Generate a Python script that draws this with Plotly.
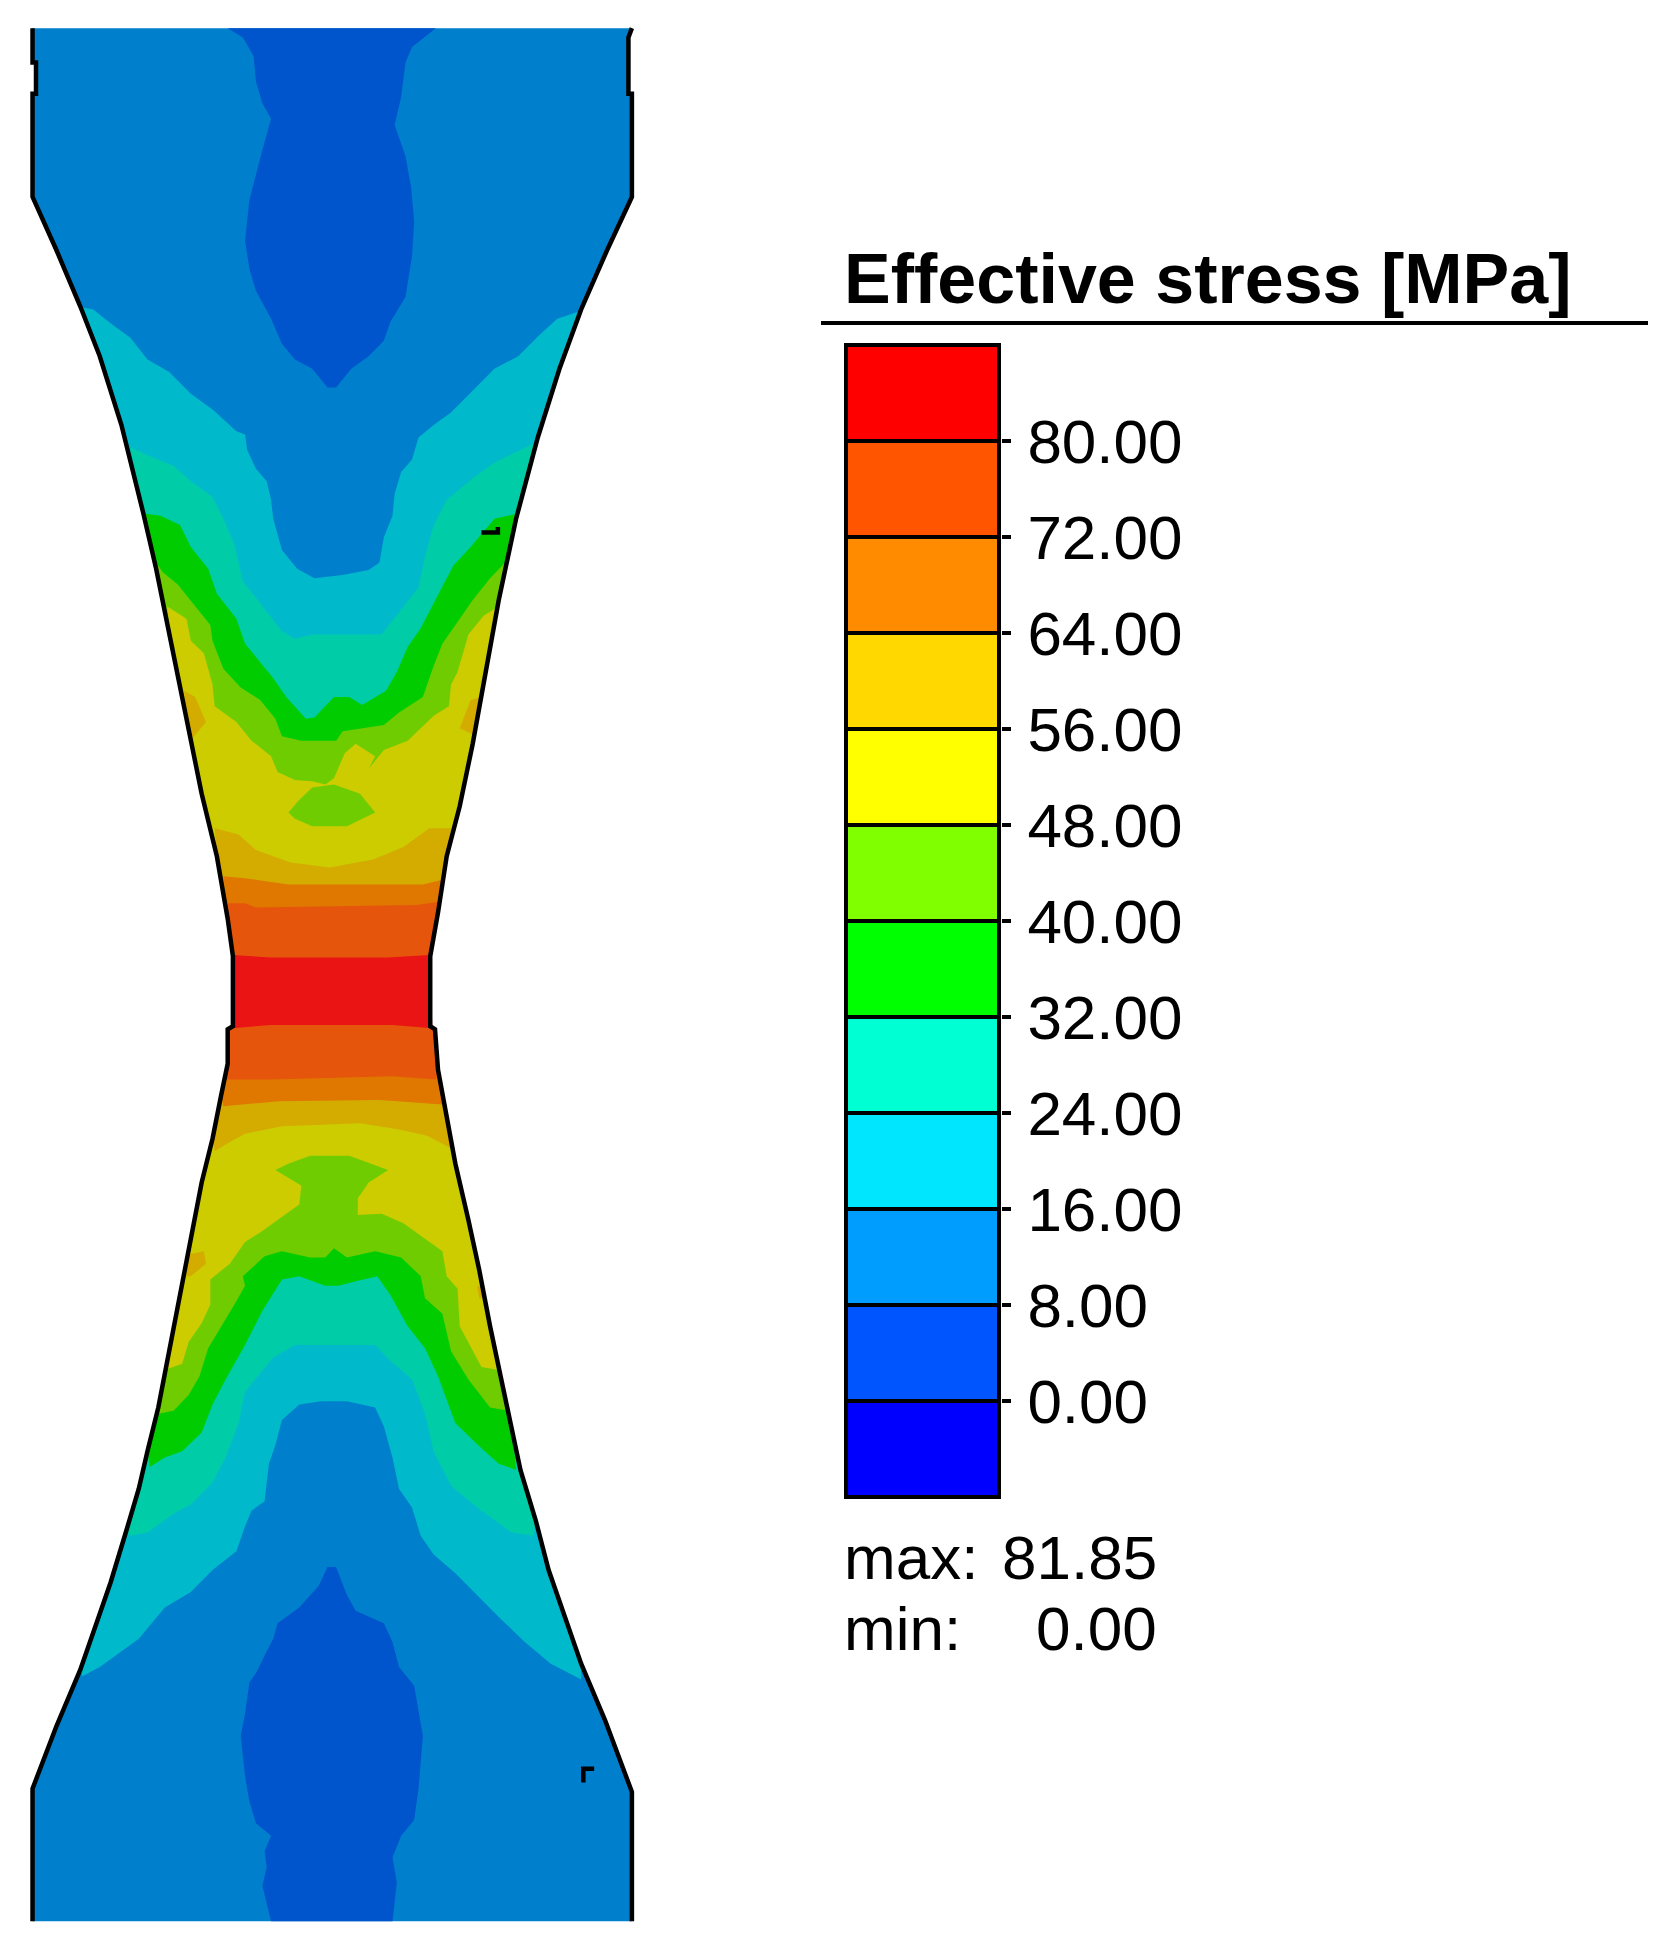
import plotly.graph_objects as go

W, H = 1669, 1951
# drawing units for the specimen: image px / 0.4337 in x, image px / 0.625 in y
U_MAX, V_MAX = W / 0.4337, H / 0.625
B = 1552  # offset of the lower half

# specimen outline, top to bottom
left_u = [75, 75, 83, 83, 75, 75, 130, 185, 230, 280, 330, 360, 395, 430, 465, 500, 525, 537,
          537, 525, 525, 510, 490, 465, 440, 410, 385, 365, 340, 320, 290, 255, 215, 185, 130, 80, 75, 75]
left_v = [45, 100, 100, 150, 150, 315, 400, 490, 570, 680, 820, 910, 1030, 1150, 1270, 1370, 1470, 1530,
          B + 90, B + 95, B + 150, B + 200, B + 270, B + 340, B + 430, B + 530, B + 620, B + 700, B + 770,
          B + 830, B + 900, B + 980, B + 1060, B + 1120, B + 1210, B + 1300, B + 1310, B + 1522]
right_u = [1457, 1449, 1449, 1457, 1457, 1400, 1340, 1290, 1240, 1190, 1150, 1120, 1090, 1060, 1030, 1010, 992,
           992, 1003, 1010, 1030, 1050, 1080, 1105, 1130, 1155, 1180, 1200, 1235, 1265, 1300, 1340, 1395, 1450, 1457, 1457]
right_v = [45, 60, 150, 150, 315, 400, 495, 590, 700, 830, 960, 1080, 1190, 1290, 1370, 1460, 1530,
           B + 90, B + 95, B + 160, B + 240, B + 310, B + 400, B + 480, B + 570, B + 650, B + 730, B + 800,
           B + 880, B + 960, B + 1030, B + 1110, B + 1200, B + 1300, B + 1315, B + 1522]
WAIST = 1590
waist_left, waist_right = 537, 992

# upper half, contour lines left to right
cyan_top_u = [190, 215, 260, 300, 340, 390, 440, 490, 545, 565, 570, 590, 615, 625, 630, 650, 685, 725, 790, 850, 875, 885, 905, 910, 925, 950, 965, 1000, 1040, 1090, 1140, 1195, 1245, 1285, 1340]
cyan_top_v = [492, 495, 520, 540, 575, 595, 630, 655, 690, 695, 720, 750, 770, 800, 830, 880, 910, 925, 920, 912, 900, 860, 825, 790, 755, 735, 700, 680, 660, 625, 590, 570, 535, 510, 497]
teal_top_u = [300, 345, 400, 440, 490, 515, 540, 560, 600, 650, 680, 720, 880, 925, 965, 980, 1000, 1030, 1090, 1140, 1230]
teal_top_v = [715, 730, 745, 770, 795, 830, 870, 930, 965, 1010, 1022, 1015, 1015, 975, 940, 890, 840, 800, 765, 740, 710]
green_top_u = [335, 370, 415, 440, 480, 500, 545, 565, 630, 660, 705, 725, 770, 805, 835, 890, 915, 940, 970, 1000, 1045, 1085, 1140, 1192]
green_top_v = [822, 825, 840, 875, 910, 950, 990, 1030, 1085, 1115, 1150, 1148, 1115, 1115, 1128, 1105, 1075, 1035, 1005, 965, 905, 875, 830, 822]
lime_top_u = [360, 375, 410, 450, 485, 490, 515, 555, 600, 635, 650, 695, 775, 790, 840, 885, 920, 975, 1000, 1020, 1050, 1090, 1130, 1165]
lime_top_v = [900, 915, 935, 970, 1000, 1025, 1070, 1100, 1120, 1150, 1178, 1185, 1185, 1170, 1165, 1160, 1140, 1115, 1065, 1030, 1000, 960, 925, 900]
olive_top_u = [385, 430, 440, 470, 490, 495, 545, 580, 625, 640, 680, 720, 750, 770, 795, 820, 865, 850, 885, 940, 1000, 1035, 1040, 1055, 1080, 1115, 1150]
olive_top_v = [970, 990, 1025, 1045, 1095, 1130, 1155, 1185, 1210, 1235, 1248, 1250, 1255, 1245, 1205, 1190, 1210, 1230, 1200, 1185, 1145, 1130, 1095, 1075, 1015, 985, 970]
amber_top_u = [495, 550, 590, 670, 760, 860, 930, 990, 1040]
amber_top_v = [1325, 1335, 1360, 1380, 1388, 1375, 1355, 1325, 1325]
orange_top_u = [515, 565, 665, 975, 1018]
orange_top_v = [1402, 1405, 1415, 1415, 1408]
rust_top_u = [525, 565, 590, 960, 1010]
rust_top_v = [1445, 1445, 1452, 1448, 1443]
red_top_u = [537, 625, 895, 990]
red_top_v = [1528, 1532, 1532, 1528]

# lower half, contour lines left to right
cyan_bot_u = [190, 230, 270, 320, 380, 440, 490, 545, 565, 580, 610, 620, 635, 650, 690, 740, 800, 865, 885, 905, 920, 950, 970, 1000, 1050, 1100, 1150, 1210, 1270, 1340]
cyan_bot_v = [B + y for y in [1130, 1115, 1095, 1070, 1020, 995, 960, 930, 890, 865, 850, 790, 760, 720, 695, 690, 690, 700, 730, 780, 830, 860, 905, 935, 965, 1000, 1035, 1075, 1110, 1135]]
teal_bot_u = [300, 340, 400, 440, 490, 520, 550, 565, 630, 680, 865, 900, 950, 980, 1000, 1040, 1100, 1180, 1230]
teal_bot_v = [B + y for y in [905, 900, 870, 855, 820, 780, 725, 675, 620, 600, 600, 625, 655, 710, 770, 825, 860, 900, 905]]
green_bot_u = [345, 380, 420, 465, 490, 520, 565, 605, 650, 690, 750, 780, 820, 870, 900, 940, 980, 1010, 1050, 1110, 1150, 1190]
green_bot_v = [B + y for y in [795, 780, 770, 740, 695, 655, 600, 545, 495, 490, 505, 505, 498, 490, 520, 570, 605, 650, 725, 765, 790, 800]]
lime_bot_u = [365, 400, 435, 460, 480, 515, 545, 565, 560, 610, 650, 715, 750, 770, 800, 865, 925, 970, 980, 1020, 1040, 1080, 1130, 1172]
lime_bot_v = [B + y for y in [710, 705, 680, 650, 605, 565, 530, 505, 490, 458, 450, 460, 460, 445, 460, 450, 460, 490, 525, 550, 610, 655, 700, 705]]
olive_bot_u = [380, 420, 435, 465, 485, 485, 530, 565, 600, 630, 690, 695, 635, 665, 715, 805, 895, 850, 825, 825, 880, 930, 1020, 1030, 1055, 1060, 1090, 1110, 1150]
olive_bot_v = [B + y for y in [640, 630, 595, 565, 535, 495, 470, 435, 420, 405, 375, 345, 320, 310, 297, 297, 320, 340, 365, 392, 390, 405, 450, 490, 510, 570, 610, 635, 640]]
amber_bot_u = [495, 530, 565, 650, 830, 920, 985, 1040]
amber_bot_v = [B + y for y in [290, 275, 262, 250, 245, 255, 265, 285]]
orange_bot_u = [515, 645, 875, 1020]
orange_bot_v = [B + y for y in [218, 210, 208, 215]]
rust_bot_u = [520, 625, 905, 1005]
rust_bot_v = [B + y for y in [175, 175, 170, 175]]
red_bot_u = [535, 625, 905, 997]
red_bot_v = [B + y for y in [93, 88, 88, 93]]

# closed patches
deep_top_u = [525, 560, 585, 590, 605, 625, 605, 590, 575, 565, 575, 590, 625, 650, 680, 720, 755, 775, 810, 850, 885, 900, 935, 950, 955, 948, 935, 910, 925, 935, 950, 1005]
deep_top_v = [45, 60, 90, 130, 165, 190, 240, 280, 320, 385, 430, 465, 510, 550, 575, 590, 620, 620, 590, 570, 545, 515, 475, 410, 355, 300, 250, 200, 155, 100, 75, 45]
deep_bot_u = [625, 605, 615, 610, 625, 590, 575, 565, 555, 565, 575, 590, 615, 630, 640, 690, 735, 755, 775, 800, 820, 885, 905, 920, 955, 975, 965, 955, 925, 905, 915, 905]
deep_bot_v = [B + y for y in [1522, 1465, 1435, 1410, 1385, 1365, 1330, 1290, 1225, 1190, 1140, 1125, 1090, 1070, 1045, 1020, 985, 955, 955, 1000, 1025, 1045, 1075, 1115, 1145, 1225, 1310, 1360, 1385, 1420, 1460, 1522]]
island_top_u = [665, 690, 720, 770, 830, 865, 800, 720, 680]
island_top_v = [1300, 1280, 1260, 1255, 1270, 1300, 1322, 1322, 1310]
amber_spot_a_u = [425, 450, 475, 445, 430]
amber_spot_a_v = [1105, 1115, 1155, 1180, 1165]
amber_spot_b_u = [1085, 1110, 1105, 1090, 1060]
amber_spot_b_v = [1120, 1115, 1140, 1175, 1165]
amber_spot_c_u = [435, 470, 475, 440, 430]
amber_spot_c_v = [B + y for y in [455, 450, 470, 490, 490]]
amber_spot_d_u = [1100, 1110, 1112, 1105]
amber_spot_d_v = [B + y for y in [505, 505, 525, 525]]
notch_a_u = [1110, 1148, 1148]
notch_a_v = [852, 852, 843]
notch_b_u = [1345, 1345, 1370]
notch_b_v = [B + y for y in [1300, 1278, 1278]]

# scale
band_low = [-8, 0, 8, 16, 24, 32, 40, 48, 56, 64, 72, 80]
band_colors = ["#0000FF", "#0055FF", "#009DFF", "#00E6FF", "#00FFD2", "#00FF00",
               "#7FFF00", "#FFFF00", "#FFD800", "#FF8C00", "#FF5500", "#FF0000"]
tick_vals = [0, 8, 16, 24, 32, 40, 48, 56, 64, 72, 80]
tick_text = ["0.00", "8.00", "16.00", "24.00", "32.00", "40.00", "48.00", "56.00", "64.00", "72.00", "80.00"]

DEEP, BLUE, CYAN, TEAL = "#0055CC", "#0080CC", "#00BACC", "#00CCA8"
GREEN, LIME, OLIVE, AMBER = "#00CC00", "#6ECC00", "#CCCC00", "#D4AC00"
ORANGE, RUST, RED = "#E07800", "#E6550C", "#EB1414"


def patch(u, v, color):
    return go.Scatter(x=u, y=v, mode="lines", fill="toself", fillcolor=color,
                      line=dict(width=0, color=color), hoverinfo="skip", showlegend=False)


def toward_waist(u, v, lower=False):
    # contour line closed along both specimen edges as far as the waist
    if lower:
        rs = [(a, b) for a, b in zip(right_u, right_v) if WAIST < b < v[-1]][::-1]
        ls = [(a, b) for a, b in zip(left_u, left_v) if WAIST < b < v[0]]
    else:
        rs = [(a, b) for a, b in zip(right_u, right_v) if v[-1] < b < WAIST]
        ls = [(a, b) for a, b in zip(left_u, left_v) if v[0] < b < WAIST][::-1]
    pu = list(u) + [p[0] for p in rs] + [waist_right, waist_left] + [p[0] for p in ls]
    pv = list(v) + [p[1] for p in rs] + [WAIST, WAIST] + [p[1] for p in ls]
    return pu, pv


fig = go.Figure()

# body of the specimen
fig.add_trace(patch(left_u + right_u[::-1], left_v + right_v[::-1], BLUE))
fig.add_trace(patch(deep_top_u, deep_top_v, DEEP))
fig.add_trace(patch(deep_bot_u, deep_bot_v, DEEP))

upper = [(cyan_top_u, cyan_top_v, CYAN), (teal_top_u, teal_top_v, TEAL), (green_top_u, green_top_v, GREEN),
         (lime_top_u, lime_top_v, LIME), (olive_top_u, olive_top_v, OLIVE), (amber_top_u, amber_top_v, AMBER),
         (orange_top_u, orange_top_v, ORANGE), (rust_top_u, rust_top_v, RUST)]
lower = [(cyan_bot_u, cyan_bot_v, CYAN), (teal_bot_u, teal_bot_v, TEAL), (green_bot_u, green_bot_v, GREEN),
         (lime_bot_u, lime_bot_v, LIME), (olive_bot_u, olive_bot_v, OLIVE), (amber_bot_u, amber_bot_v, AMBER),
         (orange_bot_u, orange_bot_v, ORANGE), (rust_bot_u, rust_bot_v, RUST)]
for u, v, color in upper:
    pu, pv = toward_waist(u, v)
    fig.add_trace(patch(pu, pv, color))
for u, v, color in lower:
    pu, pv = toward_waist(u, v, lower=True)
    fig.add_trace(patch(pu, pv, color))

# red waist goes on last, straight over the join of the two halves
fig.add_trace(patch(red_top_u + red_bot_u[::-1], red_top_v + red_bot_v[::-1], RED))

fig.add_trace(patch(island_top_u, island_top_v, LIME))
fig.add_trace(patch(amber_spot_a_u, amber_spot_a_v, AMBER))
fig.add_trace(patch(amber_spot_b_u, amber_spot_b_v, AMBER))
fig.add_trace(patch(amber_spot_c_u, amber_spot_c_v, AMBER))
fig.add_trace(patch(amber_spot_d_u, amber_spot_d_v, AMBER))

# outline and the two small marks
for u, v in [(left_u, left_v), (right_u, right_v), (notch_a_u, notch_a_v), (notch_b_u, notch_b_v)]:
    fig.add_trace(go.Scatter(x=u, y=v, mode="lines", line=dict(color="black", width=4.5),
                             hoverinfo="skip", showlegend=False))

# colour scale as stacked bars on its own axis
fig.add_trace(go.Bar(x=[0] * len(band_low), y=[8] * len(band_low), base=band_low, width=1,
                     marker=dict(color=band_colors, line=dict(color="black", width=4)),
                     xaxis="x2", yaxis="y2", hoverinfo="skip", showlegend=False))

FONT = "Liberation Sans, Arial, sans-serif"


def label(x_px, y_px, text, size=62, anchor="left", bold=False):
    fig.add_annotation(x=x_px / W, y=1 - y_px / H, xref="paper", yref="paper", text=f"<b>{text}</b>" if bold else text,
                       xanchor=anchor, yanchor="middle", showarrow=False, borderpad=0,
                       font=dict(family=FONT, size=size, color="black"))


label(843, 279, "Effective stress [MPa]", size=70, bold=True)
label(843, 1557, "max:")
label(1158, 1557, "81.85", anchor="right")
label(843, 1628, "min:")
label(1158, 1628, "0.00", anchor="right")

fig.add_shape(type="line", xref="paper", yref="paper", x0=821 / W, x1=1648 / W, y0=1 - 323 / H, y1=1 - 323 / H,
              line=dict(color="black", width=4))

fig.update_layout(
    width=W, height=H, margin=dict(l=0, r=0, t=0, b=0, pad=0), autosize=False,
    paper_bgcolor="white", plot_bgcolor="rgba(0,0,0,0)", barmode="overlay", bargap=0,
    xaxis=dict(range=[0, U_MAX], visible=False, domain=[0, 1], fixedrange=True),
    yaxis=dict(range=[V_MAX, 0], visible=False, domain=[0, 1], fixedrange=True),
    xaxis2=dict(range=[-0.5 - 4 / 153, 0.5 + 2 / 153], visible=False, domain=[842 / W, 1001 / W], anchor="y2", fixedrange=True),
    yaxis2=dict(range=[-8 - 1 / 3, 88 + 1 / 3], domain=[1 - 1501 / H, 1 - 341 / H], anchor="x2", side="right",
                tickmode="array", tickvals=tick_vals, ticktext=tick_text, ticks="outside", ticklen=9,
                tickwidth=4, tickcolor="black", showgrid=False, zeroline=False, showline=False,
                ticklabelstandoff=4, tickfont=dict(family=FONT, size=62, color="black"), fixedrange=True),
    hovermode=False,
)

fig.write_html("out.html", config={"displayModeBar": False}, post_script="document.body.style.margin='0';")
